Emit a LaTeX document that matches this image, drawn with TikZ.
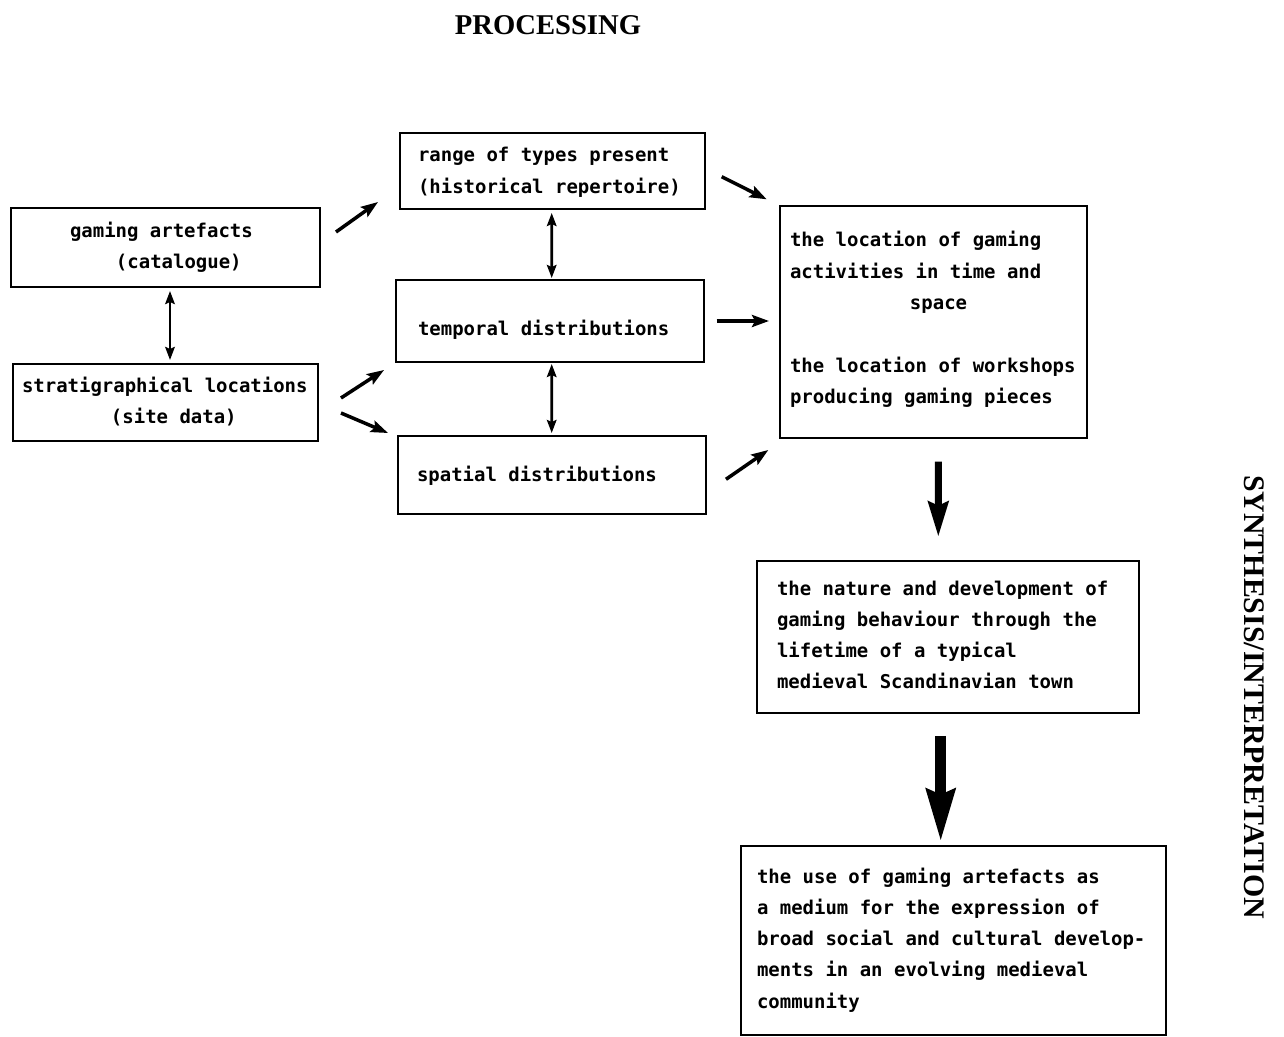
\documentclass[tikz,border=0pt]{standalone}
\usepackage{fontspec}
\setmainfont{Liberation Serif}
\newfontfamily\boxfont{DejaVu Sans Mono}
\usetikzlibrary{arrows.meta,calc}
\begin{document}
\begin{tikzpicture}[x=0.02cm,y=-0.02cm,
  box/.style={draw,line width=1.1pt,rectangle,inner sep=0pt,outer sep=0pt},
  txt/.style={anchor=base west,inner sep=0pt,outer sep=0pt,text width=9cm,align=left,
    font={\boxfont\bfseries\fontsize{10.8pt}{17.8pt}\selectfont},
    execute at begin node={\spaceskip=0.602em\xspaceskip=0.602em\relax}},
  title/.style={inner sep=0pt,font={\bfseries\fontsize{16.3pt}{19pt}\selectfont}},
  sarr/.style={line width=2pt,-{Stealth[length=0.34cm,width=0.24cm,inset=0.06cm]}},
  darr/.style={line width=1.5pt,{Stealth[length=0.26cm,width=0.19cm,inset=0.04cm]}-{Stealth[length=0.26cm,width=0.19cm,inset=0.04cm]}},
  barr/.style={line width=4pt,-{Stealth[length=0.7cm,width=0.4cm,inset=0.08cm]}},
  harr/.style={line width=6.2pt,-{Stealth[length=1.04cm,width=0.56cm,inset=0.1cm]}}
]
\useasboundingbox[fill=white] (0,0) rectangle (1284,1037);

% titles
\node[title,anchor=base] (proc) at (548,35) {PROCESSING};
\node[title,rotate=-90,font={\bfseries\fontsize{17pt}{19pt}\selectfont}] (synth) at (1254,697) {SYNTHESIS/INTERPRETATION};

% boxes
\node[box,minimum width=6.18cm,minimum height=1.58cm] (A) at (165.5,247.5) {};
\node[box,minimum width=6.10cm,minimum height=1.54cm] (B) at (165.5,402.5) {};
\node[box,minimum width=6.10cm,minimum height=1.52cm] (C) at (552.5,171) {};
\node[box,minimum width=6.16cm,minimum height=1.64cm] (D) at (550,321) {};
\node[box,minimum width=6.16cm,minimum height=1.56cm] (E) at (552,475) {};
\node[box,minimum width=6.14cm,minimum height=4.64cm] (F) at (933.5,322) {};
\node[box,minimum width=7.64cm,minimum height=3.04cm] (G) at (948,637) {};
\node[box,minimum width=8.50cm,minimum height=3.78cm] (H) at (953.5,940.5) {};

% texts
\node[txt] (At) at (70,237) {gaming artefacts\\\hspace*{0.92cm}(catalogue)};
\node[txt] (Bt) at (22,392) {stratigraphical locations\\\hspace*{1.78cm}(site data)};
\node[txt] (Ct) at (418,162) {range of types present\\(historical repertoire)};
\node[txt] (Dt) at (418,335) {temporal distributions};
\node[txt] (Et) at (417,481) {spatial distributions};
\node[txt] (Ft) at (790,247) {the location of gaming\\activities in time and\\\hspace*{2.4cm}space\\[0.626cm]the location of workshops\\producing gaming pieces};
\node[txt] (Gt) at (777,595) {the nature and development of\\gaming behaviour through the\\lifetime of a typical\\medieval Scandinavian town};
\node[txt] (Ht) at (757,883) {the use of gaming artefacts as\\a medium for the expression of\\broad social and cultural develop-\\ments in an evolving medieval\\community};

% connectors
\draw[sarr] ($(A.north east)+(16,24)$) -- ($(C.south west)+(-22,-7)$);
\draw[darr] ($(A.south)+(4.5,4)$) -- ($(B.north)+(4.5,-4)$);
\draw[sarr] ($(B.east)+(23,-4.5)$) -- ($(D.south west)+(-12,8)$);
\draw[sarr] ($(B.east)+(23,10.5)$) -- ($(E.north west)+(-10,-3)$);
\draw[darr] ($(C.south)+(-0.8,4)$) -- ($(D.north)+(1.7,-2)$);
\draw[darr] ($(D.south)+(1.7,2)$) -- ($(E.north)+(-0.3,-3)$);
\draw[sarr] ($(C.east)+(16.7,5.7)$) -- ($(F.north west)+(-13.3,-6.7)$);
\draw[sarr] ($(D.east)+(12.7,0)$) -- ($(F.west)+(-11,-1)$);
\draw[sarr] ($(E.east)+(20,4.3)$) -- ($(F.south west)+(-11.7,12)$);
\draw[barr] ($(F.south)+(4.8,23.7)$) -- ($(G.north)+(-9.7,-24.3)$);
\draw[harr] ($(G.south)+(-7.3,23)$) -- ($(H.north)+(-12.8,-4.3)$);
\end{tikzpicture}
\end{document}
